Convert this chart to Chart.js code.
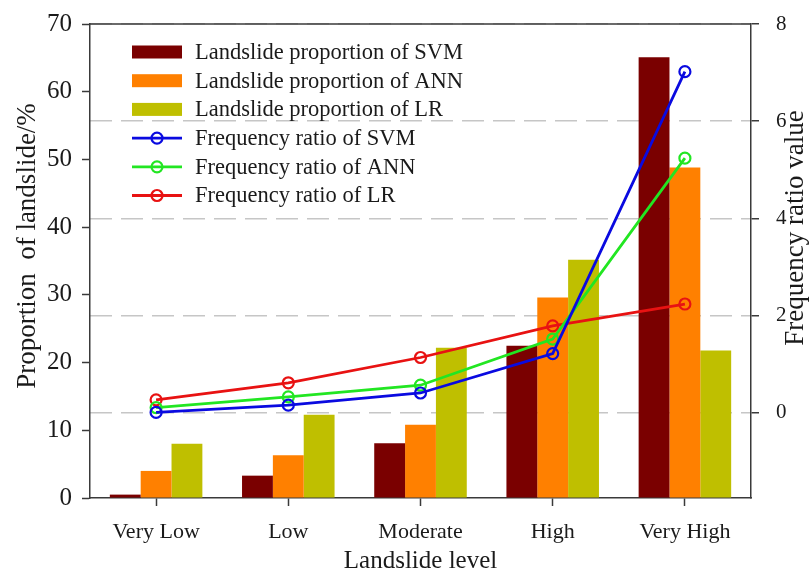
<!DOCTYPE html>
<html>
<head>
<meta charset="utf-8">
<script src="https://cdn.jsdelivr.net/npm/chart.js@4.4.0/dist/chart.umd.min.js"></script>
<style>
html,body{margin:0;padding:0;background:#fff;}
canvas{display:block;}
</style>
</head>
<body>
<canvas id="c" width="809" height="576"></canvas>
<script>
// ---- data ----
const categories = ['Very Low', 'Low', 'Moderate', 'High', 'Very High'];
const svmProportion = [0.5, 3.3, 8.1, 22.5, 65.1];
const annProportion = [4.0, 6.3, 10.8, 29.6, 48.8];
const lrProportion  = [8.0, 12.3, 22.2, 35.2, 21.8];
const svmRatio = [0.01, 0.16, 0.41, 1.22, 7.02];
const annRatio = [0.11, 0.33, 0.57, 1.52, 5.24];
const lrRatio  = [0.27, 0.62, 1.14, 1.79, 2.24];
const rightTicks = [0, 2, 4, 6, 8];
const seriesNames = [
  'Landslide proportion of SVM',
  'Landslide proportion of ANN',
  'Landslide proportion of LR',
  'Frequency ratio of SVM',
  'Frequency ratio of ANN',
  'Frequency ratio of LR'
];

const FONT = "'Liberation Serif', 'Times New Roman', serif";
const TXT = '#1a1a1a';
const AXIS = '#3a3a3a';
const colors = {
  svmBar: '#7a0000', annBar: '#ff8000', lrBar: '#bfbf00',
  svmLine: '#0a0ae0', annLine: '#22e622', lrLine: '#e81212'
};
Chart.defaults.font.family = FONT;
Chart.defaults.color = TXT;

const lineDs = (label, data, color, order) => ({
  type: 'line', label, data, yAxisID: 'y1', order,
  borderColor: color, borderWidth: 2.8,
  pointRadius: 5.5, pointBorderWidth: 2.2, pointBorderColor: color,
  pointBackgroundColor: 'rgba(0,0,0,0)', pointStyle: 'circle',
  tension: 0, fill: false
});
const barDs = (label, data, color) => ({
  type: 'bar', label, data, yAxisID: 'y', order: 10,
  backgroundColor: color, borderWidth: 0,
  barPercentage: 1.0, categoryPercentage: 0.7
});

const decorPlugin = {
  id: 'decor',
  afterDraw(chart) {
    const {ctx, chartArea: a} = chart;
    ctx.save();
    // top frame line
    ctx.strokeStyle = AXIS; ctx.lineWidth = 1.5;
    ctx.beginPath(); ctx.moveTo(a.left, a.top); ctx.lineTo(a.right, a.top); ctx.stroke();
    // y-axis titles
    ctx.fillStyle = TXT;
    ctx.font = "27px " + FONT;
    ctx.textAlign = 'center'; ctx.textBaseline = 'middle';
    ctx.save(); ctx.translate(28, 246); ctx.rotate(-Math.PI/2);
    ctx.fillText('Proportion  of landslide/%', 0, 0); ctx.restore();
    ctx.save(); ctx.translate(796, 228); ctx.rotate(-Math.PI/2);
    ctx.fillText('Frequency ratio value', 0, 0); ctx.restore();
    // legend
    const x0 = a.left + 42, y0 = a.top + 28, dy = 28.7;
    const legendCols = [colors.svmBar, colors.annBar, colors.lrBar, colors.svmLine, colors.annLine, colors.lrLine];
    ctx.font = "22.5px " + FONT;
    ctx.textAlign = 'left'; ctx.textBaseline = 'middle';
    seriesNames.forEach((name, i) => {
      const y = y0 + i * dy;
      if (i < 3) {
        ctx.fillStyle = legendCols[i];
        ctx.fillRect(x0, y - 6.5, 50, 13);
      } else {
        ctx.strokeStyle = legendCols[i]; ctx.lineWidth = 2.8;
        ctx.beginPath(); ctx.moveTo(x0, y); ctx.lineTo(x0 + 50, y); ctx.stroke();
        ctx.lineWidth = 2.2;
        ctx.beginPath(); ctx.arc(x0 + 25, y, 5.5, 0, Math.PI * 2); ctx.stroke();
      }
      ctx.fillStyle = TXT;
      ctx.fillText(name, x0 + 63, y + 1);
    });
    ctx.restore();
  }
};

new Chart(document.getElementById('c'), {
  data: {
    labels: categories,
    datasets: [
      barDs(seriesNames[0], svmProportion, colors.svmBar),
      barDs(seriesNames[1], annProportion, colors.annBar),
      barDs(seriesNames[2], lrProportion, colors.lrBar),
      lineDs(seriesNames[3], svmRatio, colors.svmLine, 0),
      lineDs(seriesNames[4], annRatio, colors.annLine, 1),
      lineDs(seriesNames[5], lrRatio, colors.lrLine, 2)
    ]
  },
  options: {
    responsive: false,
    animation: false,
    layout: { padding: { top: 24, left: 0, right: 0, bottom: 0 } },
    plugins: { legend: { display: false }, tooltip: { enabled: false } },
    scales: {
      x: {
        type: 'category', offset: true,
        grid: { display: true, drawOnChartArea: false, drawTicks: true, offset: false,
                tickLength: 8, tickColor: AXIS, tickWidth: 1.5, color: AXIS },
        border: { color: AXIS, width: 1.5 },
        ticks: { font: { size: 22 }, color: TXT, padding: 13, maxRotation: 0 },
        title: { display: true, text: 'Landslide level', font: { size: 25 }, color: TXT,
                 padding: { top: 0, bottom: 0 } },
        afterFit(s) { s.height = 78; s.paddingLeft = 0; s.paddingRight = 0; }
      },
      y: {
        position: 'left', min: 0, max: 70,
        grid: { drawOnChartArea: false, tickLength: 8, tickColor: AXIS, tickWidth: 1.5, color: AXIS },
        border: { color: AXIS, width: 1.5 },
        ticks: { stepSize: 10, font: { size: 25 }, color: TXT, padding: 10 },
        afterFit(s) { s.width = 90; s.paddingTop = 0; s.paddingBottom = 0; }
      },
      y1: {
        position: 'right', min: -1.75, max: 8,
        afterBuildTicks(s) { s.ticks = rightTicks.map(v => ({ value: v })); },
        grid: { drawOnChartArea: true, color: '#c6c6c6', lineWidth: 1.5,
                tickLength: 8, tickColor: AXIS, tickWidth: 1.5, tickBorderDash: [0, 0] },
        border: { color: AXIS, width: 1.5, dash: [22, 9] },
        ticks: { font: { size: 21 }, color: TXT, padding: 17 },
        afterFit(s) { s.width = 58; s.paddingTop = 0; s.paddingBottom = 0; }
      }
    }
  },
  plugins: [decorPlugin]
});
</script>
</body>
</html>
